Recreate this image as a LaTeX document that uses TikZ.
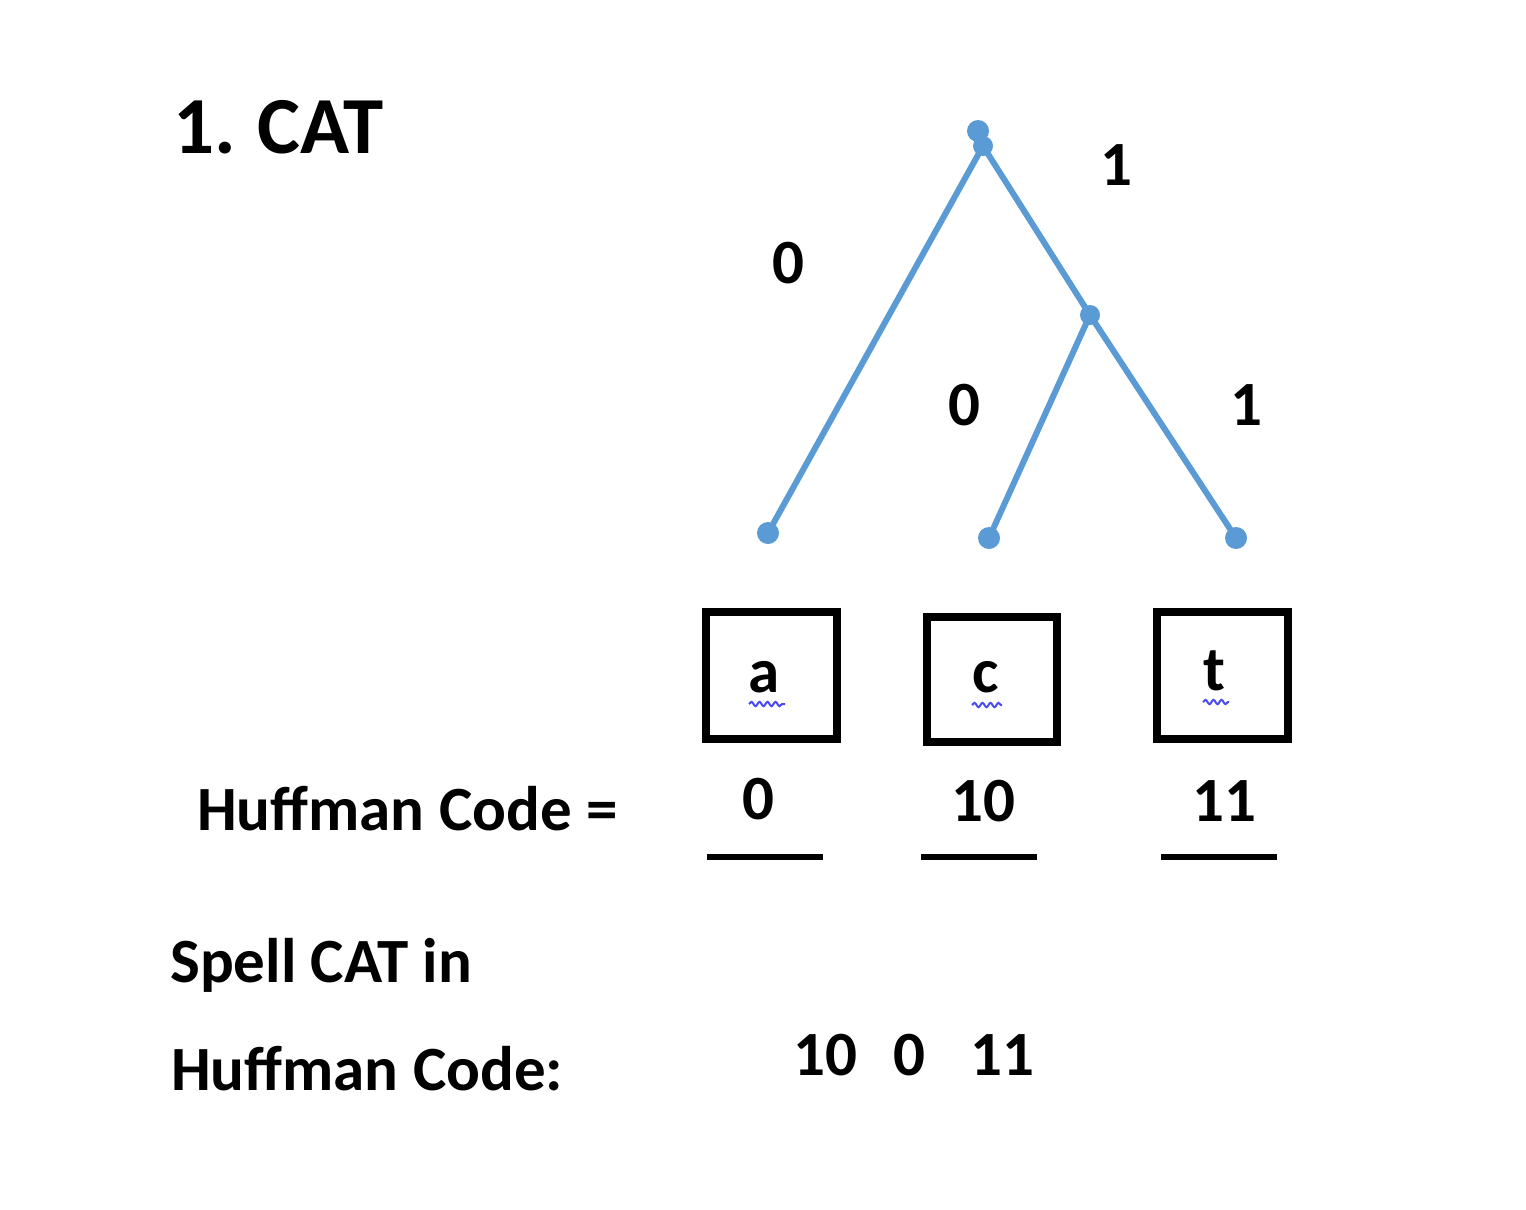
\documentclass[tikz,border=0pt]{standalone}
\usepackage{fontspec}
\setmainfont{Carlito}
\usetikzlibrary{decorations.pathmorphing}
\definecolor{treeblue}{HTML}{5B9BD5}
\definecolor{spellblue}{HTML}{4A4AF0}
\tikzset{
  edge/.style={draw=treeblue, line width=6pt, line cap=round},
  dot/.style={circle, fill=treeblue, inner sep=0pt, minimum size=22pt},
  lbl/.style={inner sep=0pt, anchor=base, font=\fontsize{63}{70}\selectfont\bfseries},
  txt/.style={inner sep=0pt, anchor=base west, font=\fontsize{63}{70}\selectfont\bfseries},
  letterbox/.style={draw=black, line width=7.5pt, inner sep=0pt},
  blank/.style={draw=black, line width=6pt},
  squig/.style={draw=spellblue, line width=2pt, decorate, decoration={snake, segment length=8pt, amplitude=2.2pt}}
}
\begin{document}
\begin{tikzpicture}[x=1pt,y=-1pt]
\useasboundingbox (0,0) rectangle (1526,1210);
% title
\node[txt, font=\fontsize{81}{90}\selectfont\bfseries] (title) at (173,153) {1.\hspace{22pt}CAT};
% tree
\node[dot] (root) at (978,131) {};
\node[dot, minimum size=20pt] (root2) at (983,146) {};
\node[dot, minimum size=20pt] (mid) at (1090,315) {};
\node[dot] (la) at (768,533) {};
\node[dot] (lc) at (989,538) {};
\node[dot] (lt) at (1236,538) {};
\draw[edge] (root2.center) -- (la.center);
\draw[edge] (root2.center) -- (mid.center);
\draw[edge] (mid.center) -- (lt.center);
\draw[edge] (mid.center) -- (lc.center);
\node[lbl] (e0) at (788,283) {0};
\node[lbl] (e1) at (1116,185) {1};
\node[lbl] (e00) at (964,425) {0};
\node[lbl] (e11) at (1246,425) {1};
% letter boxes
\draw[letterbox] (706,612) rectangle (837,739);
\draw[letterbox] (927,617) rectangle (1057,742);
\draw[letterbox] (1157,612) rectangle (1288,739);
\node[lbl] (ta) at (764,692) {a};
\node[lbl] (tc) at (986,692) {c};
\node[lbl] (tt) at (1214,690) {t};
\coordinate (sa1) at (749,704); \coordinate (sa2) at (785,704);
\coordinate (sc1) at (972,705); \coordinate (sc2) at (1002,705);
\coordinate (st1) at (1203,702); \coordinate (st2) at (1229,702);
\draw[squig] (sa1) -- (sa2);
\draw[squig] (sc1) -- (sc2);
\draw[squig] (st1) -- (st2);
% codes
\node[txt] (hc) at (197,830) {Huffman Code =};
\node[lbl] (c0) at (758,819) {0};
\node[lbl] (c10) at (983,821) {10};
\node[lbl] (c11) at (1224,821) {11};
\coordinate (u1a) at (707,857); \coordinate (u1b) at (823,857);
\coordinate (u2a) at (921,857); \coordinate (u2b) at (1037,857);
\coordinate (u3a) at (1161,857); \coordinate (u3b) at (1277,857);
\draw[blank] (u1a) -- (u1b);
\draw[blank] (u2a) -- (u2b);
\draw[blank] (u3a) -- (u3b);
% spell
\node[txt] (sp1) at (170,982) {Spell CAT in};
\node[txt] (sp2) at (171,1090) {Huffman Code:};
\node[txt] (ans) at (793,1075) {10\hspace{36pt}0\hspace{46pt}11};
\end{tikzpicture}
\end{document}
